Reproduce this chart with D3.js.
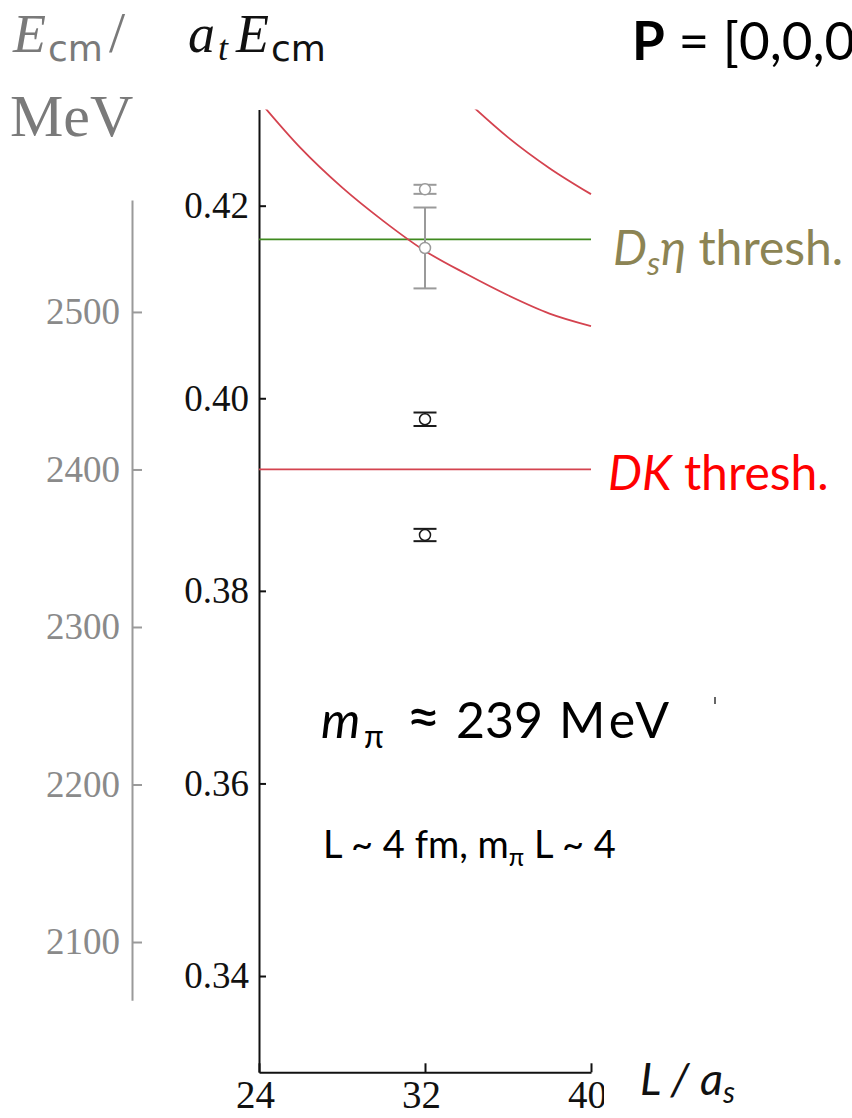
<!DOCTYPE html>
<html>
<head>
<meta charset="utf-8">
<script src="https://cdn.jsdelivr.net/npm/d3@7"></script>
<style>
  body { margin: 0; background: #fff; }
  svg { display: block; }
</style>
</head>
<body>
<svg id="chart" width="852" height="1118"></svg>
<script>
// ---- data ----------------------------------------------------------
const boxTicks = [24, 32, 40];                       // L / a_s
const energyTicks = [0.34, 0.36, 0.38, 0.40, 0.42];  // a_t E_cm
const mevTicks = [2100, 2200, 2300, 2400, 2500];     // E_cm / MeV
const atInverseMeV = 6113;                           // a_t^-1 in MeV
const mevAxisExtent = [2063, 2571];

// extracted finite-volume levels at L/a_s = 32
const levelL   = [32, 32, 32, 32];
const levelE   = [0.42170, 0.41561, 0.39782, 0.38580];
const levelErr = [0.00047, 0.00420, 0.00070, 0.00064];
const levelSet = ["upper", "upper", "lower", "lower"];

// non-interacting DK levels
const freeL1 = [24, 26, 28, 30, 32, 34, 36, 38, 40];
const freeE1 = [0.4309, 0.4260, 0.4219, 0.4184, 0.4153, 0.4129, 0.4107, 0.4088, 0.4075];
const freeL2 = [34, 36, 38, 40];
const freeE2 = [0.4309, 0.4271, 0.4239, 0.4212];

// thresholds
const dsEtaThreshold = 0.41651;
const dkThreshold = 0.39262;

// ---- layout --------------------------------------------------------
const svg = d3.select("#chart");
const plot = { left: 259, right: 591, top: 109.4, bottom: 1072.3 };

const x = d3.scaleLinear().domain([24, 40]).range([plot.left, plot.right]);
const y = d3.scaleLinear().domain([0.33, 0.43]).range([plot.bottom, plot.top]);
const yMeV = d3.scaleLinear()
  .domain(mevAxisExtent)
  .range(mevAxisExtent.map(d => y(d / atInverseMeV)));

const serif = "'Liberation Serif', 'Times New Roman', serif";
const sans = "Lato, 'Noto Sans', sans-serif";

const defs = svg.append("defs");
defs.append("clipPath").attr("id", "plot-clip")
  .append("rect")
  .attr("x", plot.left).attr("y", plot.top)
  .attr("width", plot.right - plot.left + 2)
  .attr("height", plot.bottom - plot.top);
defs.append("clipPath").attr("id", "xlabel-clip")
  .append("rect").attr("x", 0).attr("y", 0).attr("width", 604).attr("height", 1118);

// ---- MeV axis (grey, left) ----------------------------------------
const mevAxis = svg.append("g")
  .attr("transform", "translate(132,0)")
  .call(d3.axisLeft(yMeV).tickValues(mevTicks).tickFormat(d3.format("d"))
        .tickSizeInner(-10).tickSizeOuter(0).tickPadding(12));
mevAxis.select(".domain").attr("stroke", "#9a9a9a").attr("stroke-width", 2);
mevAxis.selectAll(".tick line").attr("stroke", "#9a9a9a").attr("stroke-width", 2);
mevAxis.selectAll(".tick text")
  .attr("font-family", serif).attr("font-size", 37).attr("fill", "#8a8a8a")
  .attr("dy", "0.32em");

// ---- main energy axis ---------------------------------------------
const yAxis = svg.append("g")
  .attr("transform", `translate(${plot.left},0)`)
  .call(d3.axisLeft(y).tickValues(energyTicks).tickFormat(d3.format(".2f"))
        .tickSizeInner(-7).tickSizeOuter(0).tickPadding(10));
yAxis.select(".domain").attr("stroke", "#111").attr("stroke-width", 2);
yAxis.selectAll(".tick line").attr("stroke", "#111").attr("stroke-width", 2);
yAxis.selectAll(".tick text")
  .attr("font-family", serif).attr("font-size", 37).attr("fill", "#111")
  .attr("dy", "0.32em");

// ---- L axis (labels clipped on the right by the axis title box) -----
const xWrap = svg.append("g").attr("clip-path", "url(#xlabel-clip)");
const xAxis = xWrap.append("g")
  .attr("transform", `translate(0,${plot.bottom})`)
  .call(d3.axisBottom(x).tickValues(boxTicks).tickSizeInner(-9).tickSizeOuter(0).tickPadding(8));
xAxis.select(".domain").attr("stroke", "#111").attr("stroke-width", 2);
xAxis.selectAll(".tick line").attr("stroke", "#111").attr("stroke-width", 2);
xAxis.selectAll(".tick text")
  .attr("font-family", serif).attr("font-size", 39).attr("fill", "#111")
  .attr("dx", -4);

// ---- curves & thresholds -------------------------------------------
const curves = svg.append("g").attr("clip-path", "url(#plot-clip)");

curves.append("line")
  .attr("x1", x(24)).attr("x2", x(40))
  .attr("y1", y(dsEtaThreshold)).attr("y2", y(dsEtaThreshold))
  .attr("stroke", "#3f8a1f").attr("stroke-width", 1.8);

curves.append("line")
  .attr("x1", x(24)).attr("x2", x(40))
  .attr("y1", y(dkThreshold)).attr("y2", y(dkThreshold))
  .attr("stroke", "#d4434f").attr("stroke-width", 1.8);

const freeLine = d3.line()
  .x(d => x(d[0])).y(d => y(d[1]))
  .curve(d3.curveMonotoneX);

[[freeL1, freeE1], [freeL2, freeE2]].forEach(([ls, es]) => {
  curves.append("path")
    .attr("d", freeLine(d3.zip(ls, es)))
    .attr("fill", "none")
    .attr("stroke", "#d4434f")
    .attr("stroke-width", 1.8);
});

// ---- levels with error bars -----------------------------------------
const levelColour = { upper: "#9a9a9a", lower: "#1a1a1a" };
const levels = d3.range(levelL.length).map(i => ({
  L: levelL[i], E: levelE[i], err: levelErr[i], set: levelSet[i]
}));

const lv = svg.append("g").selectAll("g").data(levels).join("g")
  .attr("stroke", d => levelColour[d.set])
  .attr("stroke-width", 2)
  .attr("fill", "none");

lv.append("line")
  .attr("x1", d => x(d.L)).attr("x2", d => x(d.L))
  .attr("y1", d => y(d.E + d.err)).attr("y2", d => y(d.E - d.err));
lv.append("line")
  .attr("x1", d => x(d.L) - 11.5).attr("x2", d => x(d.L) + 11.5)
  .attr("y1", d => y(d.E + d.err)).attr("y2", d => y(d.E + d.err));
lv.append("line")
  .attr("x1", d => x(d.L) - 11.5).attr("x2", d => x(d.L) + 11.5)
  .attr("y1", d => y(d.E - d.err)).attr("y2", d => y(d.E - d.err));
lv.append("circle")
  .attr("cx", d => x(d.L)).attr("cy", d => y(d.E))
  .attr("r", 5.5)
  .attr("fill", "#fff")
  .attr("stroke-width", 1.5);

// ---- axis titles ----------------------------------------------------
const t1 = svg.append("text").attr("x", 13).attr("y", 52).attr("fill", "#7a7a7a");
t1.append("tspan").attr("font-family", serif).attr("font-style", "italic").attr("font-size", 54).text("E");
t1.append("tspan").attr("font-family", "'DejaVu Sans', sans-serif").attr("font-size", 36).attr("dy", 9).attr("dx", 2).text("cm");
t1.append("tspan").attr("font-family", serif).attr("font-size", 58).attr("dy", -9).attr("dx", 6).text("/");

svg.append("text").attr("x", 10).attr("y", 136)
  .attr("font-family", serif).attr("font-size", 60).attr("fill", "#7a7a7a")
  .text("MeV");

const t2 = svg.append("text").attr("x", 188).attr("y", 52).attr("fill", "#111");
t2.append("tspan").attr("font-family", serif).attr("font-style", "italic").attr("font-size", 54).text("a");
t2.append("tspan").attr("font-family", serif).attr("font-style", "italic").attr("font-size", 36).attr("dy", 8).attr("dx", 3).text("t");
t2.append("tspan").attr("font-family", serif).attr("font-style", "italic").attr("font-size", 54).attr("dy", -8).attr("dx", 8).text("E");
t2.append("tspan").attr("font-family", "'DejaVu Sans', sans-serif").attr("font-size", 36).attr("dy", 9).attr("dx", 2).text("cm");

const t3 = svg.append("text").attr("x", 640).attr("y", 1095).attr("fill", "#111")
  .attr("font-family", sans).attr("font-style", "italic");
t3.append("tspan").attr("font-size", 45).text("L / a");
t3.append("tspan").attr("font-size", 30).attr("dy", 8).text("s");

// ---- annotations ----------------------------------------------------
const p = svg.append("text").attr("x", 632).attr("y", 60)
  .attr("font-family", sans).attr("font-size", 53).attr("fill", "#000");
p.append("tspan").attr("font-weight", "bold").text("P");
p.append("tspan").text(" = [0,0,0]");

const ds = svg.append("text").attr("x", 613).attr("y", 265)
  .attr("font-family", sans).attr("font-size", 48).attr("fill", "#8c8454");
ds.append("tspan").attr("font-style", "italic").text("D");
ds.append("tspan").attr("font-style", "italic").attr("font-size", 33).attr("dy", 10).text("s");
ds.append("tspan").attr("font-style", "italic").attr("dy", -10).text("η");
ds.append("tspan").text(" thresh.");

const dk = svg.append("text").attr("x", 608).attr("y", 490)
  .attr("font-family", sans).attr("font-size", 48).attr("fill", "#ff0000");
dk.append("tspan").attr("font-style", "italic").text("DK");
dk.append("tspan").text(" thresh.");

const mp = svg.append("text").attr("y", 738)
  .attr("font-family", sans).attr("font-size", 50).attr("fill", "#000");
mp.append("tspan").attr("x", 321).attr("font-style", "italic").text("m");
mp.append("tspan").attr("x", 364).attr("font-size", 32).attr("dy", 10).text("π");
mp.append("tspan").attr("x", 406).attr("dy", -10).attr("font-size", 60).text("≈");
mp.append("tspan").attr("x", 456).text("239");
mp.append("tspan").attr("x", 559).attr("letter-spacing", 4).text("MeV");

svg.append("line")
  .attr("x1", 715).attr("x2", 715).attr("y1", 697).attr("y2", 704)
  .attr("stroke", "#333").attr("stroke-width", 1.5);

const lt = svg.append("text").attr("x", 323).attr("y", 858)
  .attr("font-family", sans).attr("font-size", 38).attr("fill", "#000");
lt.append("tspan").text("L ~ 4 fm, m");
lt.append("tspan").attr("font-size", 25).attr("dy", 8).text("π");
lt.append("tspan").attr("dy", -8).text(" L ~ 4");
</script>
</body>
</html>
